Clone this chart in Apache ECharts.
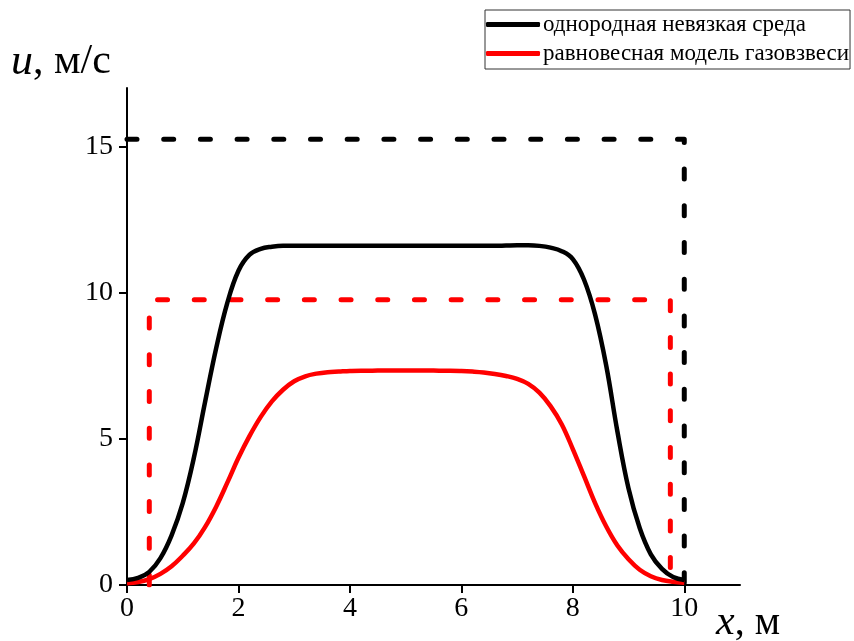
<!DOCTYPE html>
<html>
<head>
<meta charset="utf-8">
<script src="https://cdn.jsdelivr.net/npm/echarts@6/dist/echarts.min.js"></script>
<style>
  html, body { margin: 0; padding: 0; background: #fff; }
  #chart { width: 854px; height: 641px; }
</style>
</head>
<body>
<div id="chart"></div>
<script>
// Velocity profiles u(x) along the channel
const seriesNames = ['однородная невязкая среда', 'равновесная модель газовзвеси'];

// sample positions along x, m
const xGrid = [0, 0.2, 0.4, 0.6, 0.8, 1.0, 1.2, 1.4, 1.6, 1.8,
               2.0, 2.2, 2.4, 2.6, 2.8, 3.0, 3.2, 3.4, 3.6, 3.8,
               4.0, 4.2, 4.4, 4.6, 4.8, 5.0, 5.2, 5.4, 5.6, 5.8,
               6.0, 6.2, 6.4, 6.6, 6.8, 7.0, 7.2, 7.4, 7.6, 7.8,
               8.0, 8.2, 8.4, 8.6, 8.8, 9.0, 9.2, 9.4, 9.6, 9.8, 10.0];

// homogeneous inviscid medium, m/s
const uInviscid = [0.17, 0.24, 0.45, 0.92, 1.7, 2.8, 4.35, 6.25, 8.1, 9.65,
                   10.75, 11.3, 11.5, 11.57, 11.6, 11.6, 11.6, 11.6, 11.6, 11.6,
                   11.6, 11.6, 11.6, 11.6, 11.6, 11.6, 11.6, 11.6, 11.6, 11.6,
                   11.6, 11.6, 11.6, 11.6, 11.61, 11.62, 11.62, 11.6, 11.54, 11.42,
                   11.15, 10.45, 9.25, 7.5, 5.25, 3.3, 1.95, 1.05, 0.55, 0.27, 0.17];

// equilibrium gas-suspension model, m/s
const uSuspension = [0.06, 0.1, 0.2, 0.38, 0.64, 1.0, 1.42, 1.98, 2.68, 3.5,
                     4.35, 5.1, 5.75, 6.28, 6.68, 6.97, 7.14, 7.23, 7.28, 7.3,
                     7.32, 7.33, 7.33, 7.34, 7.34, 7.34, 7.34, 7.34, 7.33, 7.33,
                     7.32, 7.3, 7.27, 7.22, 7.15, 7.05, 6.88, 6.58, 6.12, 5.5,
                     4.65, 3.73, 2.8, 2.0, 1.35, 0.88, 0.52, 0.3, 0.17, 0.11, 0.08];

// dashed rectangular profiles
const xRectInviscid = [0, 10, 10];
const uRectInviscid = [15.25, 15.25, 0];
const xRectSuspension = [0.4, 0.4, 9.75, 9.75];
const uRectSuspension = [0, 9.76, 9.76, 0];

const xTicks = [0, 2, 4, 6, 8, 10];
const yTicks = [0, 5, 10, 15];

const zip = (xs, ys) => xs.map((x, i) => [x, ys[i]]);

const serif = '"Liberation Serif", "Times New Roman", serif';
const chart = echarts.init(document.getElementById('chart'), null, { renderer: 'canvas' });

const dashStyle = (color) => ({
  color: color, width: 5, type: [10, 26.7], cap: 'round', join: 'round'
});

chart.setOption({
  animation: false,
  backgroundColor: '#fff',
  grid: { left: 127, right: 114, top: 88, bottom: 56, containLabel: false },
  xAxis: {
    type: 'value', min: 0, max: 11, interval: 2,
    axisLine: { show: true, lineStyle: { color: '#000', width: 2 } },
    axisTick: { show: true, inside: false, length: 8, lineStyle: { color: '#000', width: 2 },
      customValues: xTicks },
    axisLabel: { color: '#000', fontFamily: serif, fontSize: 28, margin: 10,
      customValues: xTicks },
    splitLine: { show: false }
  },
  yAxis: {
    type: 'value', min: 0, max: 17, interval: 5,
    axisLine: { show: true, lineStyle: { color: '#000', width: 2 } },
    axisTick: { show: true, inside: false, length: 8, lineStyle: { color: '#000', width: 2 },
      customValues: yTicks },
    axisLabel: { color: '#000', fontFamily: serif, fontSize: 28, margin: 14,
      customValues: yTicks },
    splitLine: { show: false }
  },
  legend: {
    data: seriesNames,
    orient: 'vertical',
    left: 485, top: 10,
    itemWidth: 54, itemHeight: 5, itemGap: 6,
    icon: 'roundRect',
    padding: [3, 1, 4, 1],
    borderColor: '#333', borderWidth: 1,
    textStyle: { color: '#000', fontFamily: serif, fontSize: 23, padding: [0, 0, 0, -2] },
    selectedMode: false
  },
  graphic: [
    {
      type: 'text', left: 11, top: 40,
      style: {
        text: '{i|u}{r|, м/с}',
        rich: {
          i: { fontFamily: serif, fontStyle: 'italic', fontSize: 44, fill: '#000' },
          r: { fontFamily: serif, fontSize: 42, fill: '#000' }
        }
      }
    },
    {
      type: 'text', left: 716, top: 602,
      style: {
        text: '{i|x}{r|, м}',
        rich: {
          i: { fontFamily: serif, fontStyle: 'italic', fontSize: 42, fill: '#000' },
          r: { fontFamily: serif, fontSize: 40, fill: '#000' }
        }
      }
    }
  ],
  series: [
    {
      name: 'rect-inviscid', type: 'line', data: zip(xRectInviscid, uRectInviscid),
      symbol: 'none', lineStyle: dashStyle('#000'), z: 2, silent: true
    },
    {
      name: 'rect-suspension', type: 'line', data: zip(xRectSuspension, uRectSuspension),
      symbol: 'none', lineStyle: dashStyle('#ff0000'), z: 2, silent: true
    },
    {
      name: seriesNames[1], type: 'line', data: zip(xGrid, uSuspension),
      symbol: 'none', smooth: 0.4, color: '#ff0000',
      lineStyle: { color: '#ff0000', width: 4.5 }, z: 3
    },
    {
      name: seriesNames[0], type: 'line', data: zip(xGrid, uInviscid),
      symbol: 'none', smooth: 0.4, color: '#000',
      lineStyle: { color: '#000', width: 4.5 }, z: 4
    }
  ]
});
</script>
</body>
</html>
